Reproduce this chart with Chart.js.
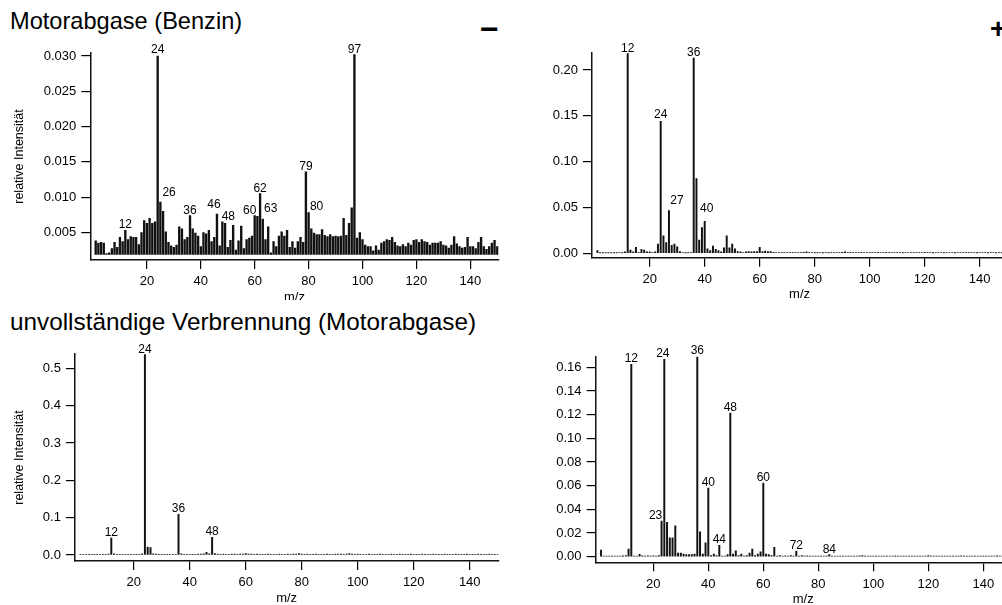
<!DOCTYPE html>
<html>
<head>
<meta charset="utf-8">
<title>Massenspektren</title>
<script src="https://cdn.jsdelivr.net/npm/chart.js@4.4.0/dist/chart.umd.min.js"></script>
<style>
    html, body { margin: 0; padding: 0; background: #fff; overflow: hidden; }
    body { width: 1002px; height: 605px; position: relative; font-family: "Liberation Sans", Arial, Helvetica, sans-serif; }
    .wrap { position: absolute; overflow: hidden; }
    .wrap canvas { position: absolute; left: 0; }
    .title { position: absolute; line-height: 1; white-space: nowrap; color: #000; }
    .sign { position: absolute; line-height: 1; font-weight: bold; color: #000; }
</style>
</head>
<body>
<div class="title" style="left:10px; top:10px; font-size:23.6px;">Motorabgase (Benzin)</div>
<div class="sign" style="left:480px; top:13px; font-size:32px;">&minus;</div>
<div class="sign" style="left:990px; top:15px; font-size:28px;">+</div>
<div class="title" style="left:10px; top:310px; font-size:24.3px;">unvollständige Verbrennung (Motorabgase)</div>

<div class="wrap" style="left:0; top:0; width:500px; height:300px;">
    <canvas id="benzin_neg" width="500" height="290" style="top:30px;"></canvas>
</div>
<div class="wrap" style="left:500px; top:0; width:502px; height:300px;">
    <canvas id="benzin_pos" width="520" height="290" style="top:30px;"></canvas>
</div>
<div class="wrap" style="left:0; top:300px; width:500px; height:305px;">
    <canvas id="verbrennung_neg" width="500" height="290" style="top:30px;"></canvas>
</div>
<div class="wrap" style="left:500px; top:300px; width:502px; height:305px;">
    <canvas id="verbrennung_pos" width="520" height="290" style="top:30px;"></canvas>
</div>

<script>
// m/z 1..150
var mz = [
    1, 2, 3, 4, 5, 6, 7, 8, 9, 10, 11, 12, 13, 14, 15, 16, 17, 18, 19, 20, 21, 22, 23, 24, 25,
    26, 27, 28, 29, 30, 31, 32, 33, 34, 35, 36, 37, 38, 39, 40, 41, 42, 43, 44, 45, 46, 47, 48, 49, 50,
    51, 52, 53, 54, 55, 56, 57, 58, 59, 60, 61, 62, 63, 64, 65, 66, 67, 68, 69, 70, 71, 72, 73, 74, 75,
    76, 77, 78, 79, 80, 81, 82, 83, 84, 85, 86, 87, 88, 89, 90, 91, 92, 93, 94, 95, 96, 97, 98, 99, 100,
    101, 102, 103, 104, 105, 106, 107, 108, 109, 110, 111, 112, 113, 114, 115, 116, 117, 118, 119, 120, 121, 122, 123, 124, 125,
    126, 127, 128, 129, 130, 131, 132, 133, 134, 135, 136, 137, 138, 139, 140, 141, 142, 143, 144, 145, 146, 147, 148, 149, 150
];
var mz_ticks = [20, 40, 60, 80, 100, 120, 140];

// Motorabgase (Benzin), negative ions
var benzin_neg = [
    0.0038, 0.0035, 0.0036, 0.0035, 0.0020, 0.0021, 0.0027, 0.0036, 0.0029, 0.0043,
    0.0037, 0.0053, 0.0040, 0.0044, 0.0043, 0.0043, 0.0033, 0.0050, 0.0067, 0.0063,
    0.0070, 0.0063, 0.0065, 0.0300, 0.0093, 0.0080, 0.0051, 0.0036, 0.0031, 0.0029,
    0.0032, 0.0058, 0.0055, 0.0040, 0.0043, 0.0074, 0.0055, 0.0049, 0.0045, 0.0030,
    0.0050, 0.0048, 0.0053, 0.0037, 0.0043, 0.0076, 0.0031, 0.0065, 0.0063, 0.0029,
    0.0039, 0.0060, 0.0025, 0.0038, 0.0059, 0.0027, 0.0040, 0.0042, 0.0045, 0.0074,
    0.0073, 0.0105, 0.0069, 0.0040, 0.0058, 0.0021, 0.0037, 0.0030, 0.0045, 0.0051,
    0.0045, 0.0053, 0.0029, 0.0037, 0.0028, 0.0037, 0.0043, 0.0036, 0.0136, 0.0078,
    0.0055, 0.0049, 0.0047, 0.0047, 0.0054, 0.0046, 0.0044, 0.0047, 0.0044, 0.0045,
    0.0044, 0.0045, 0.0070, 0.0046, 0.0063, 0.0085, 0.0302, 0.0042, 0.0050, 0.0040,
    0.0032, 0.0030, 0.0030, 0.0024, 0.0031, 0.0025, 0.0035, 0.0037, 0.0040, 0.0039,
    0.0043, 0.0036, 0.0031, 0.0030, 0.0033, 0.0030, 0.0035, 0.0032, 0.0039, 0.0040,
    0.0036, 0.0040, 0.0037, 0.0036, 0.0032, 0.0035, 0.0035, 0.0035, 0.0037, 0.0032,
    0.0031, 0.0028, 0.0032, 0.0044, 0.0034, 0.0030, 0.0028, 0.0029, 0.0043, 0.0030,
    0.0030, 0.0027, 0.0036, 0.0043, 0.0030, 0.0026, 0.0030, 0.0035, 0.0039, 0.0030
];
var benzin_neg_peaks = [12, 24, 26, 36, 46, 48, 60, 62, 63, 79, 80, 97];

// Motorabgase (Benzin), positive ions
var benzin_pos = [
    0.0030, 0.0003, 0.0003, 0.0004, 0.0003, 0.0004, 0.0005, 0.0004, 0.0006, 0.0005,
    0.0015, 0.2180, 0.0035, 0.0015, 0.0065, 0.0007, 0.0043, 0.0036, 0.0015, 0.0015,
    0.0008, 0.0015, 0.0100, 0.1440, 0.0190, 0.0116, 0.0465, 0.0087, 0.0100, 0.0072,
    0.0020, 0.0006, 0.0005, 0.0005, 0.0006, 0.2130, 0.0815, 0.0145, 0.0280, 0.0350,
    0.0050, 0.0030, 0.0080, 0.0043, 0.0030, 0.0015, 0.0060, 0.0190, 0.0060, 0.0100,
    0.0050, 0.0020, 0.0015, 0.0007, 0.0015, 0.0020, 0.0015, 0.0020, 0.0018, 0.0065,
    0.0020, 0.0025, 0.0020, 0.0018, 0.0010, 0.0008, 0.0006, 0.0008, 0.0006, 0.0007,
    0.0006, 0.0008, 0.0006, 0.0007, 0.0008, 0.0010, 0.0015, 0.0009, 0.0006, 0.0005,
    0.0005, 0.0006, 0.0005, 0.0007, 0.0005, 0.0006, 0.0008, 0.0006, 0.0007, 0.0010,
    0.0015, 0.0008, 0.0010, 0.0007, 0.0006, 0.0008, 0.0010, 0.0007, 0.0006, 0.0008,
    0.0007, 0.0009, 0.0010, 0.0009, 0.0008, 0.0010, 0.0009, 0.0008, 0.0006, 0.0007,
    0.0006, 0.0005, 0.0006, 0.0007, 0.0008, 0.0009, 0.0008, 0.0007, 0.0006, 0.0010,
    0.0008, 0.0006, 0.0005, 0.0006, 0.0007, 0.0006, 0.0005, 0.0007, 0.0008, 0.0006,
    0.0005, 0.0006, 0.0008, 0.0007, 0.0006, 0.0008, 0.0007, 0.0006, 0.0005, 0.0006,
    0.0007, 0.0006, 0.0005, 0.0006, 0.0007, 0.0005, 0.0006, 0.0005, 0.0006, 0.0005
];
var benzin_pos_peaks = [12, 24, 27, 36, 40];

// unvollstaendige Verbrennung (Motorabgase), negative ions
var verbrennung_neg = [
    0.0020, 0.0015, 0.0018, 0.0015, 0.0020, 0.0016, 0.0015, 0.0018, 0.0020, 0.0017,
    0.0025, 0.0450, 0.0030, 0.0020, 0.0018, 0.0020, 0.0015, 0.0018, 0.0020, 0.0017,
    0.0016, 0.0020, 0.0030, 0.5370, 0.0210, 0.0200, 0.0030, 0.0025, 0.0020, 0.0018,
    0.0016, 0.0020, 0.0018, 0.0016, 0.0020, 0.1090, 0.0030, 0.0020, 0.0018, 0.0020,
    0.0018, 0.0020, 0.0022, 0.0025, 0.0030, 0.0070, 0.0030, 0.0470, 0.0040, 0.0025,
    0.0020, 0.0022, 0.0018, 0.0020, 0.0022, 0.0025, 0.0020, 0.0022, 0.0025, 0.0035,
    0.0025, 0.0022, 0.0020, 0.0022, 0.0020, 0.0018, 0.0020, 0.0022, 0.0020, 0.0018,
    0.0020, 0.0022, 0.0018, 0.0020, 0.0022, 0.0020, 0.0022, 0.0025, 0.0035, 0.0025,
    0.0020, 0.0022, 0.0018, 0.0020, 0.0022, 0.0020, 0.0018, 0.0020, 0.0022, 0.0020,
    0.0020, 0.0022, 0.0025, 0.0022, 0.0020, 0.0025, 0.0040, 0.0025, 0.0020, 0.0022,
    0.0020, 0.0018, 0.0020, 0.0022, 0.0020, 0.0018, 0.0020, 0.0022, 0.0020, 0.0018,
    0.0020, 0.0022, 0.0018, 0.0020, 0.0022, 0.0020, 0.0018, 0.0020, 0.0022, 0.0020,
    0.0018, 0.0020, 0.0022, 0.0020, 0.0018, 0.0020, 0.0022, 0.0020, 0.0018, 0.0020,
    0.0022, 0.0020, 0.0018, 0.0020, 0.0022, 0.0020, 0.0018, 0.0020, 0.0022, 0.0020,
    0.0018, 0.0020, 0.0022, 0.0020, 0.0018, 0.0020, 0.0022, 0.0020, 0.0018, 0.0020
];
var verbrennung_neg_peaks = [12, 24, 36, 48];

// unvollstaendige Verbrennung (Motorabgase), positive ions
var verbrennung_pos = [
    0.0056, 0.0005, 0.0004, 0.0005, 0.0004, 0.0005, 0.0006, 0.0005, 0.0008, 0.0010,
    0.0065, 0.1625, 0.0006, 0.0005, 0.0020, 0.0008, 0.0006, 0.0007, 0.0006, 0.0008,
    0.0006, 0.0010, 0.0300, 0.1668, 0.0290, 0.0160, 0.0160, 0.0260, 0.0030, 0.0030,
    0.0022, 0.0017, 0.0017, 0.0017, 0.0022, 0.1695, 0.0210, 0.0022, 0.0118, 0.0580,
    0.0010, 0.0022, 0.0010, 0.0096, 0.0006, 0.0006, 0.0017, 0.1214, 0.0022, 0.0050,
    0.0010, 0.0022, 0.0006, 0.0010, 0.0030, 0.0065, 0.0010, 0.0022, 0.0042, 0.0623,
    0.0022, 0.0017, 0.0010, 0.0080, 0.0006, 0.0010, 0.0006, 0.0008, 0.0006, 0.0010,
    0.0006, 0.0048, 0.0006, 0.0010, 0.0006, 0.0008, 0.0006, 0.0006, 0.0005, 0.0006,
    0.0005, 0.0006, 0.0005, 0.0018, 0.0005, 0.0006, 0.0005, 0.0005, 0.0006, 0.0005,
    0.0005, 0.0006, 0.0005, 0.0006, 0.0008, 0.0010, 0.0006, 0.0005, 0.0006, 0.0005,
    0.0005, 0.0006, 0.0005, 0.0006, 0.0005, 0.0006, 0.0005, 0.0008, 0.0005, 0.0006,
    0.0005, 0.0006, 0.0005, 0.0006, 0.0005, 0.0006, 0.0005, 0.0006, 0.0005, 0.0010,
    0.0005, 0.0006, 0.0005, 0.0006, 0.0005, 0.0006, 0.0005, 0.0006, 0.0005, 0.0006,
    0.0005, 0.0008, 0.0005, 0.0006, 0.0005, 0.0006, 0.0005, 0.0006, 0.0005, 0.0006,
    0.0005, 0.0006, 0.0005, 0.0006, 0.0008, 0.0006, 0.0005, 0.0006, 0.0005, 0.0006
];
var verbrennung_pos_peaks = [12, 23, 24, 36, 40, 44, 48, 60, 72, 84];

var font_family = '"Liberation Sans", Arial, Helvetica, sans-serif';
Chart.defaults.font.family = font_family;
Chart.defaults.color = '#000';

// draws the m/z number above the marked peaks
var peak_labels = {
    id: 'peak_labels',
    afterDatasetsDraw: function (chart, args, opts) {
        var ctx = chart.ctx;
        var meta = chart.getDatasetMeta(0);
        var labels = chart.data.labels;
        var nudge = opts.nudge || {};
        ctx.save();
        ctx.font = '12px ' + font_family;
        ctx.fillStyle = '#000';
        ctx.textAlign = 'center';
        ctx.textBaseline = 'alphabetic';
        opts.peaks.forEach(function (p) {
            var bar = meta.data[labels.indexOf(p)];
            var d = nudge[p] || [0, 0];
            ctx.fillText(String(p), bar.x + d[0], bar.y - 2 + d[1]);
        });
        ctx.restore();
    }
};

function draw_spectrum(EleID, values, peaks, opt) {
    var ctx = document.getElementById(EleID).getContext('2d');
    var config = {
        type: 'bar',
        data: {
            labels: mz,
            datasets: [{
                data: values,
                base: opt.base,
                backgroundColor: '#111',
                borderWidth: 0,
                barThickness: opt.bar_width
            }]
        },
        options: {
            responsive: false,
            animation: false,
            events: [],
            layout: { padding: opt.padding },
            plugins: {
                legend: { display: false },
                tooltip: { enabled: false },
                peak_labels: { peaks: peaks, nudge: opt.nudge }
            },
            scales: {
                x: {
                    type: 'linear',
                    offset: false,
                    min: opt.x_range[0],
                    max: opt.x_range[1],
                    afterBuildTicks: function (axis) {
                        axis.ticks = mz_ticks.map(function (v) { return { value: v }; });
                    },
                    afterFit: function (axis) { axis.height = 50; },
                    grid: { display: true, drawOnChartArea: false, drawTicks: true, tickLength: 9, color: '#000', lineWidth: 1.2, offset: false },
                    border: { display: true, color: '#111', width: 1.5 },
                    ticks: { font: { size: 13 }, color: '#000', padding: 5, maxRotation: 0, autoSkip: false },
                    title: { display: true, text: 'm/z', font: { size: 13 }, color: '#000', padding: { top: 0, bottom: 5 } }
                },
                y: {
                    type: 'linear',
                    min: opt.y_range[0],
                    max: opt.y_range[1],
                    afterBuildTicks: function (axis) {
                        axis.ticks = opt.y_ticks.map(function (v) { return { value: v }; });
                    },
                    afterFit: function (axis) { axis.width = opt.y_width; },
                    grid: { display: true, drawOnChartArea: false, drawTicks: true, tickLength: 9, color: '#000', lineWidth: 1.2 },
                    border: { display: true, color: '#111', width: 1.5 },
                    ticks: {
                        font: { size: 13 }, color: '#000', padding: 5,
                        callback: function (v) { return Number(v).toFixed(opt.decimals); }
                    },
                    title: { display: opt.y_title, text: 'relative Intensität', font: { size: 12.5 }, color: '#000', padding: { top: 12, bottom: 0 } }
                }
            }
        },
        plugins: [peak_labels]
    };
    var myChart = new Chart(ctx, config);
    return myChart;
}

draw_spectrum('benzin_neg', benzin_neg, benzin_neg_peaks, {
    base: 0.0019, bar_width: 1.7,
    x_range: [-1, 150.5], y_range: [0.0011, 0.03042],
    y_ticks: [0.005, 0.010, 0.015, 0.020, 0.025, 0.030], decimals: 3,
    y_width: 90.3, y_title: true,
    padding: { left: 0, top: 23, right: 1.4, bottom: 10 },
    nudge: { 24: [0, -1], 26: [6, -13], 46: [-3, -4], 48: [6, 0], 60: [-5, 0], 63: [8, -5], 80: [8, -1] }
});

draw_spectrum('benzin_pos', benzin_pos, benzin_pos_peaks, {
    base: 0, bar_width: 1.3,
    x_range: [-1, 150], y_range: [-0.0048, 0.2194],
    y_ticks: [0, 0.05, 0.10, 0.15, 0.20], decimals: 2,
    y_width: 91.95, y_title: false,
    padding: { left: 0, top: 22.3, right: 12.8, bottom: 12.3 },
    nudge: { 24: [0, -1], 27: [8, -5], 40: [2, -7] }
});

draw_spectrum('verbrennung_neg', verbrennung_neg, verbrennung_neg_peaks, {
    base: 0, bar_width: 1.3,
    x_range: [-1, 150.2], y_range: [-0.0161, 0.5384],
    y_ticks: [0, 0.1, 0.2, 0.3, 0.4, 0.5], decimals: 1,
    y_width: 74.9, y_title: true,
    padding: { left: 0, top: 24, right: 1.7, bottom: 9 },
    nudge: {}
});

draw_spectrum('verbrennung_pos', verbrennung_pos, verbrennung_pos_peaks, {
    base: 0, bar_width: 1.3,
    x_range: [-1, 150], y_range: [-0.00473, 0.169],
    y_ticks: [0, 0.02, 0.04, 0.06, 0.08, 0.10, 0.12, 0.14, 0.16], decimals: 2,
    y_width: 95.55, y_title: false,
    padding: { left: 0, top: 26.7, right: 9.2, bottom: 7.7 },
    nudge: { 23: [-6, 0], 24: [-1.5, 0] }
});
</script>
</body>
</html>
